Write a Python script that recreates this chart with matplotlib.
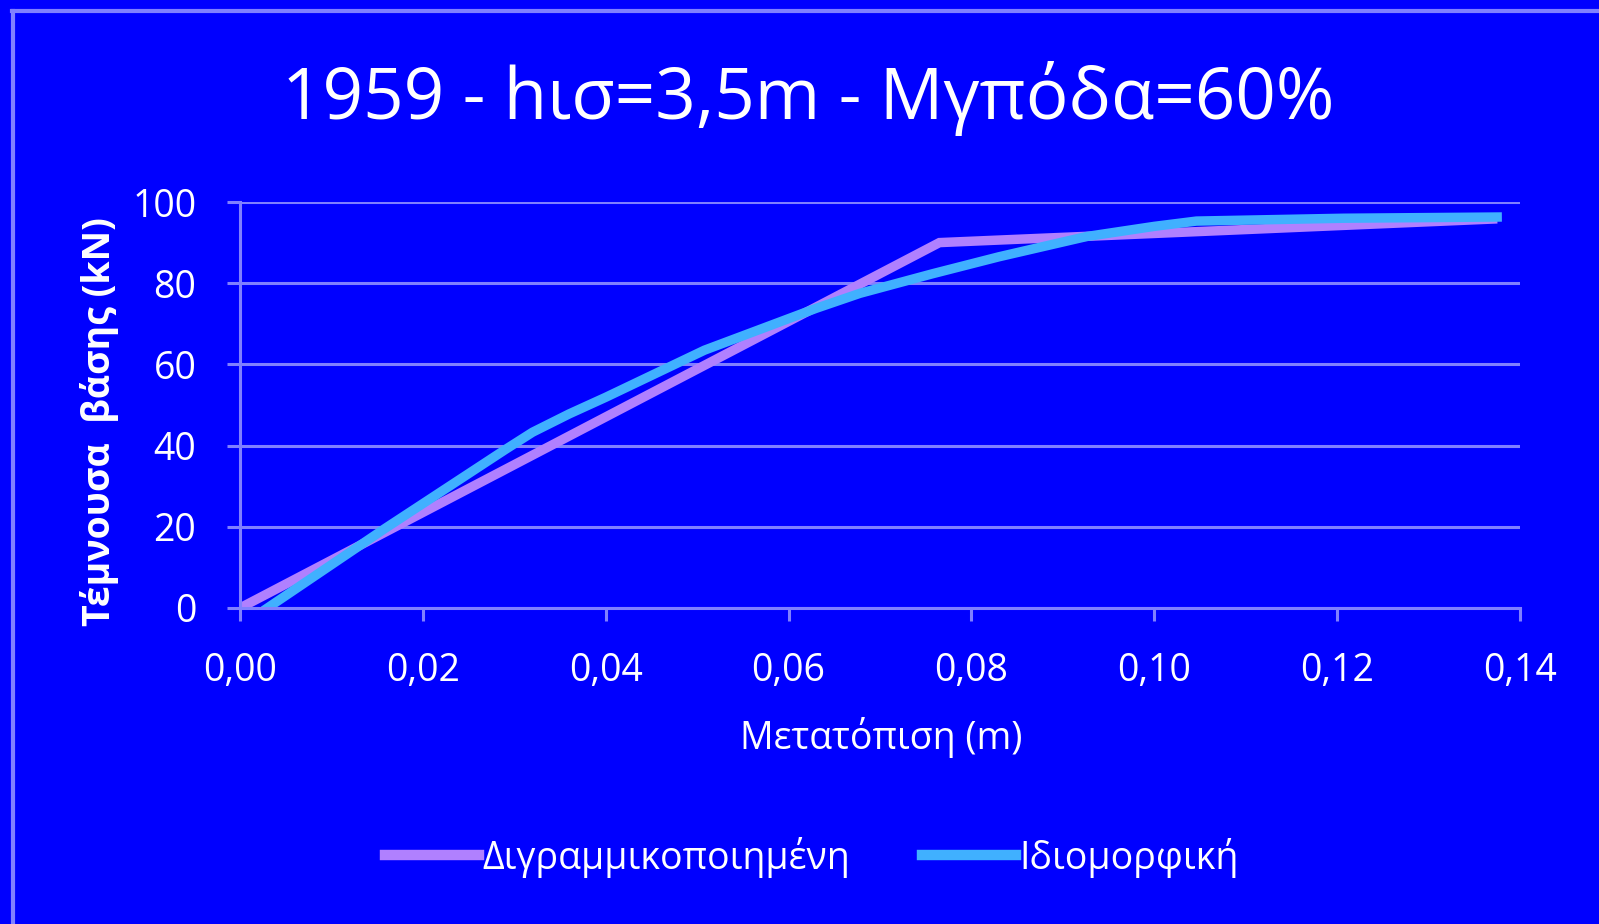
import matplotlib
matplotlib.use("Agg")
import matplotlib.pyplot as plt
from matplotlib.ticker import FuncFormatter

plt.rcParams['font.family'] = ['Open Sans', 'DejaVu Sans']

# bilinear idealisation
bilin_x = [0.0, 0.0765, 0.137]
bilin_y = [0.0, 90.0, 95.8]

# pushover (modal) curve
modal_x = [0.003, 0.0158, 0.0290, 0.0320, 0.0360, 0.040, 0.0508, 0.063, 0.0678,
           0.0757, 0.083, 0.0926, 0.1000, 0.1046, 0.1207, 0.1375]
modal_y = [0.0, 19.5, 39.0, 43.3, 47.8, 51.9, 63.5, 73.8, 77.5,
           82.3, 86.5, 91.5, 94.0, 95.3, 96.0, 96.3]

title = "1959 - hισ=3,5m - Μγπόδα=60%"
xlabel = "Μετατόπιση (m)"
ylabel = "Τέμνουσα  βάσης (kN)"
labels = ["Διγραμμικοποιημένη", "Ιδιομορφική"]

bg = "#0000FF"
grid_c = "#8080FF"
purple = "#B080FF"
cyan = "#40B0FF"

W, H = 1599, 924
fig = plt.figure(figsize=(W / 100, H / 100), dpi=100, facecolor=bg)
ax = fig.add_axes([240 / W, 1 - 608 / H, 1280 / W, 406 / H], facecolor=bg)

l1, = ax.plot(bilin_x, bilin_y, color=purple, lw=6.8, solid_joinstyle='miter')
l2, = ax.plot(modal_x, modal_y, color=cyan, lw=6.8)

ax.set_xlim(0, 0.14)
ax.set_ylim(0, 100)
ax.set_xticks([0, 0.02, 0.04, 0.06, 0.08, 0.10, 0.12, 0.14])
ax.set_yticks([0, 20, 40, 60, 80, 100])
ax.xaxis.set_major_formatter(FuncFormatter(lambda v, p: f"{v:.2f}".replace(".", ",")))
ax.yaxis.grid(True, color=grid_c, lw=2.2)
ax.set_axisbelow(True)
for s in ['top', 'right']:
    ax.spines[s].set_visible(False)
for s in ['left', 'bottom']:
    ax.spines[s].set_color(grid_c)
    ax.spines[s].set_linewidth(2.2)
ax.tick_params(colors=grid_c, length=9.5, width=2.2, direction='out',
               labelcolor='white', labelsize=27)
ax.tick_params(axis='x', pad=22.5)
ax.tick_params(axis='y', pad=22)

fig.text(808 / W, 1 - 99 / H, title, color='white', fontsize=51,
         ha='center', va='center')
fig.text(881 / W, 1 - 738 / H, xlabel, color='white', fontsize=27,
         ha='center', va='center')
fig.text(100 / W, 1 - 422 / H, ylabel, color='white', fontsize=27,
         fontweight='bold', rotation=90, ha='center', va='center')

leg = fig.legend([l1, l2], labels, loc='center', bbox_to_anchor=(812 / W, 1 - 857 / H),
                 ncol=2, frameon=False, fontsize=27, labelcolor='white',
                 handlelength=2.5, handletextpad=0.1, columnspacing=1.9)
for h in leg.legend_handles:
    h.set_linewidth(7.5)

# outer chart border (top and left)
fig.add_artist(plt.Line2D([12 / W, 1], [1 - 11 / H, 1 - 11 / H], color=grid_c, lw=3,
                          transform=fig.transFigure))
fig.add_artist(plt.Line2D([13 / W, 13 / W], [0, 1 - 11 / H], color=grid_c, lw=3,
                          transform=fig.transFigure))

fig.savefig("out.png", dpi=100, facecolor=bg)
